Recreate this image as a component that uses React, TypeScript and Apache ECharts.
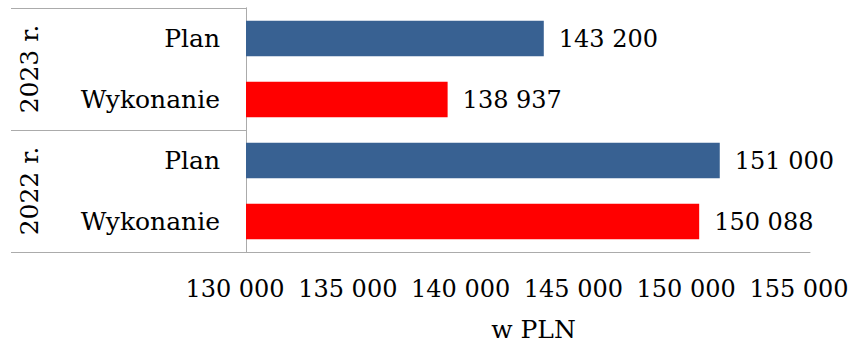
import React, { useEffect, useRef } from "react";
import * as echarts from "echarts";

// Row labels, top to bottom
const rowLabels = ["Plan", "Wykonanie", "Plan", "Wykonanie"];
// Year groups, each spanning two rows
const yearGroups = ["2023 r.", "2022 r."];
// Amounts in PLN, same order as rowLabels
const amounts = [143200, 138937, 151000, 150088];
// Bar colour per row kind
const rowColors = ["#386192", "#FF0000", "#386192", "#FF0000"];
// Value axis range
const axisMin = 130000;
const axisMax = 155000;
const axisStep = 5000;
const axisName = "w PLN";

const FONT = "DejaVu Serif";
const FS = 25; // words
const FS_NUM = 24; // numbers
const LINE = "#ABABAB";

const fmt = (v: number) =>
  Math.round(v)
    .toString()
    .replace(/\B(?=(\d{3})+(?!\d))/g, " ");

export default function App() {
  const ref = useRef<HTMLDivElement>(null);

  useEffect(() => {
    if (!ref.current) return;
    const chart = echarts.init(ref.current, undefined, { renderer: "svg" });
    chart.setOption({
      animation: false,
      backgroundColor: "#ffffff",
      textStyle: { fontFamily: FONT, color: "#000" },
      grid: { left: 246, right: 42, top: 8, bottom: 92, containLabel: false },
      xAxis: {
        type: "value",
        min: axisMin,
        max: axisMax,
        interval: axisStep,
        splitLine: { show: false },
        axisTick: { show: false },
        axisLine: { show: true, lineStyle: { color: LINE, width: 1 } },
        axisLabel: {
          formatter: (v: number) => fmt(v),
          fontSize: FS_NUM,
          fontFamily: FONT,
          color: "#000",
          margin: 25,
          padding: [0, 22, 0, 0],
        },
        name: axisName,
        nameLocation: "middle",
        nameGap: 65,
        nameTextStyle: {
          fontSize: FS,
          fontFamily: FONT,
          color: "#000",
          padding: [0, 0, 0, 11],
        },
      },
      yAxis: [
        {
          type: "category",
          data: rowLabels,
          inverse: true,
          axisTick: { show: false },
          axisLine: { show: true, lineStyle: { color: LINE, width: 1 } },
          axisLabel: {
            fontSize: FS,
            fontFamily: FONT,
            color: "#000",
            margin: 26,
          },
        },
        {
          type: "category",
          data: yearGroups,
          inverse: true,
          position: "left",
          axisLine: { show: true, lineStyle: { color: LINE, width: 1 } },
          axisTick: {
            show: true,
            length: 235,
            lineStyle: { color: LINE, width: 1 },
          },
          axisLabel: {
            rotate: 90,
            fontSize: FS,
            fontFamily: FONT,
            color: "#000",
            margin: 204,
          },
        },
      ],
      series: [
        {
          type: "bar",
          yAxisIndex: 0,
          barWidth: "58%",
          data: amounts.map((v, i) => ({
            value: v,
            itemStyle: { color: rowColors[i] },
          })),
          label: {
            show: true,
            position: "right",
            distance: 15,
            fontSize: FS_NUM,
            fontFamily: FONT,
            color: "#000",
            formatter: (p: any) => fmt(p.value),
          },
        },
      ],
    });
    return () => chart.dispose();
  }, []);

  return (
    <div
      ref={ref}
      style={{ position: "absolute", left: 0, top: 0, width: 852, height: 347 }}
    />
  );
}
